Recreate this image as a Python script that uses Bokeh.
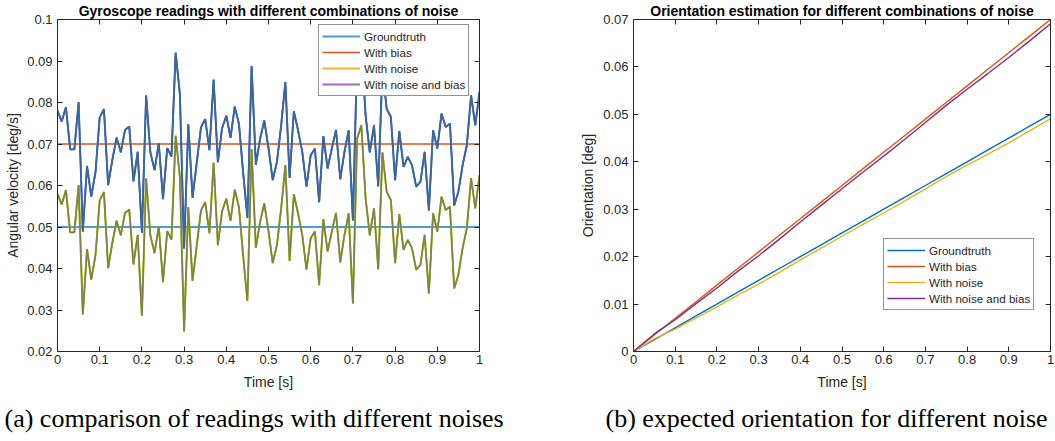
from bokeh.plotting import figure
from bokeh.layouts import row
from bokeh.models import Range1d, LinearAxis, FixedTicker, Legend, LegendItem, Title
from bokeh.embed import file_html
from bokeh.resources import INLINE

# ---------------- data ----------------
# sample times of the gyroscope readings [s]
time_s = [round(i * 0.01, 2) for i in range(101)]

# constant reference rates [deg/s]
rate_t = [0.0, 1.0]
groundtruth_rate = [0.05, 0.05]
bias_rate = [0.07, 0.07]

# noisy readings [deg/s]
with_noise = [
    0.0580, 0.0554, 0.0589, 0.0487, 0.0487, 0.0601, 0.0289, 0.0447, 0.0373, 0.0432,
    0.0564, 0.0584, 0.0401, 0.0462, 0.0515, 0.0480, 0.0534, 0.0542, 0.0410, 0.0481,
    0.0286, 0.0617, 0.0480, 0.0437, 0.0502, 0.0367, 0.0490, 0.0470, 0.0720, 0.0620,
    0.0248, 0.0548, 0.0370, 0.0455, 0.0540, 0.0560, 0.0485, 0.0655, 0.0456, 0.0538,
    0.0568, 0.0515, 0.0590, 0.0548, 0.0430, 0.0322, 0.0688, 0.0450, 0.0512, 0.0557,
    0.0490, 0.0413, 0.0457, 0.0545, 0.0649, 0.0418, 0.0579, 0.0533, 0.0481, 0.0397,
    0.0473, 0.0489, 0.0360, 0.0519, 0.0441, 0.0489, 0.0534, 0.0415, 0.0481, 0.0533,
    0.0316, 0.0713, 0.0745, 0.0570, 0.0480, 0.0545, 0.0398, 0.0680, 0.0585, 0.0565,
    0.0413, 0.0531, 0.0445, 0.0469, 0.0449, 0.0397, 0.0409, 0.0481, 0.0340, 0.0533,
    0.0489, 0.0573, 0.0541, 0.0549, 0.0352, 0.0385, 0.0449, 0.0497, 0.0617, 0.0545,
    0.0625,
]
with_noise_and_bias = [
    0.0780, 0.0754, 0.0789, 0.0687, 0.0687, 0.0801, 0.0489, 0.0647, 0.0573, 0.0632,
    0.0764, 0.0784, 0.0601, 0.0662, 0.0715, 0.0680, 0.0734, 0.0742, 0.0610, 0.0681,
    0.0486, 0.0817, 0.0680, 0.0637, 0.0702, 0.0567, 0.0690, 0.0670, 0.0920, 0.0820,
    0.0448, 0.0748, 0.0570, 0.0655, 0.0740, 0.0760, 0.0685, 0.0855, 0.0656, 0.0738,
    0.0768, 0.0715, 0.0790, 0.0748, 0.0630, 0.0522, 0.0888, 0.0650, 0.0712, 0.0757,
    0.0690, 0.0613, 0.0657, 0.0745, 0.0849, 0.0618, 0.0779, 0.0733, 0.0681, 0.0597,
    0.0673, 0.0689, 0.0560, 0.0719, 0.0641, 0.0689, 0.0734, 0.0615, 0.0681, 0.0733,
    0.0516, 0.0913, 0.0945, 0.0770, 0.0680, 0.0745, 0.0598, 0.0880, 0.0785, 0.0765,
    0.0613, 0.0731, 0.0645, 0.0669, 0.0649, 0.0597, 0.0609, 0.0681, 0.0540, 0.0733,
    0.0689, 0.0773, 0.0741, 0.0749, 0.0552, 0.0585, 0.0649, 0.0697, 0.0817, 0.0745,
    0.0825,
]

# orientation estimates [deg]
orient_t = [0.0, 0.05, 0.10, 0.15, 0.20, 0.25, 0.30, 0.35, 0.40, 0.45, 0.50,
            0.55, 0.60, 0.65, 0.70, 0.75, 0.80, 0.85, 0.90, 0.95, 1.0]
orient_groundtruth = [0.0, 0.0025, 0.005, 0.0075, 0.010, 0.0125, 0.015, 0.0175, 0.020, 0.0225, 0.025,
                      0.0275, 0.030, 0.0325, 0.035, 0.0375, 0.040, 0.0425, 0.045, 0.0475, 0.050]
orient_bias = [0.0, 0.0035, 0.007, 0.0105, 0.014, 0.0175, 0.021, 0.0245, 0.028, 0.0315, 0.035,
               0.0385, 0.042, 0.0455, 0.049, 0.0525, 0.056, 0.0595, 0.063, 0.0665, 0.070]
orient_noise = [0.0, 0.0027, 0.0047, 0.0071, 0.0094, 0.0119, 0.0142, 0.0167, 0.0193, 0.0218, 0.0243,
                0.0268, 0.0292, 0.0317, 0.0343, 0.0369, 0.0393, 0.0416, 0.0440, 0.0465, 0.0491]
orient_noise_bias = [0.0, 0.0037, 0.0067, 0.0101, 0.0134, 0.0169, 0.0202, 0.0237, 0.0273, 0.0308, 0.0343,
                     0.0378, 0.0412, 0.0447, 0.0483, 0.0519, 0.0553, 0.0586, 0.0620, 0.0655, 0.0691]

series_names = ["Groundtruth", "With bias", "With noise", "With noise and bias"]

# ticks
x_ticks = [0, 0.1, 0.2, 0.3, 0.4, 0.5, 0.6, 0.7, 0.8, 0.9, 1]
x_tick_labels = ["0", "0.1", "0.2", "0.3", "0.4", "0.5", "0.6", "0.7", "0.8", "0.9", "1"]
y1_ticks = [0.02, 0.03, 0.04, 0.05, 0.06, 0.07, 0.08, 0.09, 0.1]
y1_tick_labels = ["0.02", "0.03", "0.04", "0.05", "0.06", "0.07", "0.08", "0.09", "0.1"]
y2_ticks = [0, 0.01, 0.02, 0.03, 0.04, 0.05, 0.06, 0.07]
y2_tick_labels = ["0", "0.01", "0.02", "0.03", "0.04", "0.05", "0.06", "0.07"]

# ---------------- style ----------------
FONT = "Liberation Sans"
SERIF = "Liberation Serif"
AX = "#262626"
BLUE, ORANGE, YELLOW, PURPLE, GREEN = "#0072BD", "#D95319", "#EDB120", "#7E2F8E", "#77AC30"
H = 441
TOP = 19
BOTTOM = 89


def style_axes(p, xt, xl, yt, yl, xlabel, ylabel, ylabel_standoff):
    xa = p.below[0]
    ya = p.left[0]
    xa.ticker = FixedTicker(ticks=xt)
    xa.major_label_overrides = dict(zip(xt, xl))
    ya.ticker = FixedTicker(ticks=yt)
    ya.major_label_overrides = dict(zip(yt, yl))
    xa.axis_label = xlabel
    ya.axis_label = ylabel
    xa.major_label_standoff = 3
    xa.axis_label_standoff = 7
    ya.major_label_standoff = 5
    ya.axis_label_standoff = ylabel_standoff
    top = LinearAxis(ticker=FixedTicker(ticks=xt), major_label_overrides={t: "" for t in xt},
                     major_label_text_color=None, major_label_standoff=0)
    right = LinearAxis(ticker=FixedTicker(ticks=yt), major_label_overrides={t: "" for t in yt},
                       major_label_text_color=None, major_label_standoff=0)
    for ax in [xa, ya, top, right]:
        ax.major_tick_in = 5
        ax.major_tick_out = 0
        ax.minor_tick_in = 0
        ax.minor_tick_out = 0
        ax.axis_line_color = AX
        ax.axis_line_width = 1
        ax.major_tick_line_color = AX
        ax.major_tick_line_width = 1
        ax.major_label_text_font = FONT
    for ax in [xa, ya]:
        ax.major_label_text_color = AX
        ax.major_label_text_font_size = "13px"
        ax.axis_label_text_font = FONT
        ax.axis_label_text_font_size = "14px"
        ax.axis_label_text_font_style = "normal"
        ax.axis_label_text_color = AX
    p.add_layout(top, "above")
    p.add_layout(right, "right")
    p.xgrid.visible = False
    p.ygrid.visible = False
    p.outline_line_color = None
    p.background_fill_color = "white"
    p.border_fill_color = "white"


def make_legend(p, renderers, vx, vy):
    leg = Legend(items=[LegendItem(label=n, renderers=[r]) for n, r in zip(series_names, renderers)],
                 location=(vx, vy), orientation="vertical",
                 label_text_font=FONT, label_text_font_size="11.6px", label_text_color=AX,
                 border_line_color=AX, border_line_width=1, background_fill_color="white",
                 background_fill_alpha=1, padding=3, spacing=0, margin=0,
                 label_height=16, glyph_height=16, glyph_width=38, label_standoff=4)
    p.add_layout(leg)


def add_titles(p, title, caption, caption_offset):
    p.title.text = title
    p.title.align = "center"
    p.title.text_font = FONT
    p.title.text_font_size = "14px"
    p.title.text_font_style = "bold"
    p.title.text_color = "#000000"
    p.title.standoff = 1
    p.title.offset = 0
    cap = Title(text=caption, align="left", offset=caption_offset, standoff=18,
                text_font=SERIF, text_font_size="26px", text_font_style="normal",
                text_color="#000000")
    p.add_layout(cap, "below")


# ---------------- left figure ----------------
W1 = 565
L1, R1 = 57, 86
p1 = figure(width=W1, height=H, x_range=Range1d(0, 1), y_range=Range1d(0.02, 0.1),
            output_backend="svg", toolbar_location=None,
            min_border_left=L1, min_border_right=R1, min_border_top=TOP, min_border_bottom=BOTTOM)
style_axes(p1, x_ticks, x_tick_labels, y1_ticks, y1_tick_labels,
           "Time [s]", "Angular velocity [deg/s]", 3)

r_gt = p1.line(rate_t, groundtruth_rate, line_color="#4d9ad6", line_width=2)
r_b = p1.line(rate_t, bias_rate, line_color=ORANGE, line_width=1.4)
r_n = p1.line(time_s, with_noise, line_color="#f2b92e", line_width=1.8)
r_nb = p1.line(time_s, with_noise_and_bias, line_color="#a66ab8", line_width=1.8)
# rendered appearance of the overlapping noisy traces
p1.line(time_s, with_noise, line_color=GREEN, line_width=1.9)
p1.line(time_s, with_noise, line_color="#877b4e", line_width=1.2)
p1.line(time_s, with_noise_and_bias, line_color="#1f6fb8", line_width=1.9)
p1.line(time_s, with_noise_and_bias, line_color="#46658c", line_width=1.2)

make_legend(p1, [r_gt, r_b, r_n, r_nb], 261, 255)
add_titles(p1, "Gyroscope readings with different combinations of noise",
           "(a) comparison of readings with different noises", 4 - L1)

# ---------------- right figure ----------------
W2 = 1055 - W1
L2, R2 = 68, 5
p2 = figure(width=W2, height=H, x_range=Range1d(0, 1), y_range=Range1d(0, 0.07),
            output_backend="svg", toolbar_location=None,
            min_border_left=L2, min_border_right=R2, min_border_top=TOP, min_border_bottom=BOTTOM)
style_axes(p2, x_ticks, x_tick_labels, y2_ticks, y2_tick_labels,
           "Time [s]", "Orientation [deg]", 4)

q_gt = p2.line(orient_t, orient_groundtruth, line_color=BLUE, line_width=1.4)
q_b = p2.line(orient_t, orient_bias, line_color=ORANGE, line_width=1.4)
q_n = p2.line(orient_t, orient_noise, line_color=YELLOW, line_width=1.4)
q_nb = p2.line(orient_t, orient_noise_bias, line_color=PURPLE, line_width=1.4)

make_legend(p2, [q_gt, q_b, q_n, q_nb], 250, 41)
add_titles(p2, "Orientation estimation for different combinations of noise",
           "(b) expected orientation for different noise", 605 - (W1 + L2))

layout = row(p1, p2)
open("out.html", "w").write(file_html(layout, INLINE))
